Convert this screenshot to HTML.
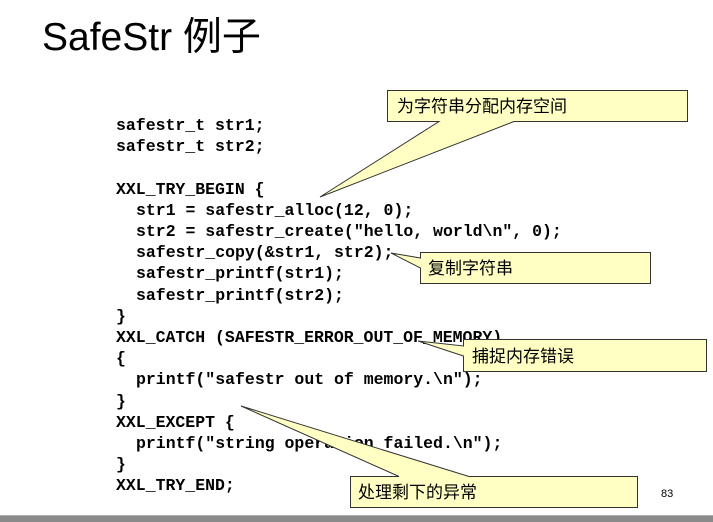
<!DOCTYPE html>
<html><head><meta charset="utf-8"><style>
html,body{margin:0;padding:0;background:#fff;}
body{width:713px;height:522px;overflow:hidden;position:relative;}
svg{position:absolute;left:0;top:0;}
.c{font-family:"Liberation Mono",monospace;font-weight:bold;font-size:16.5px;fill:#000;}
.z{font-family:"Liberation Sans","Noto Sans CJK SC",sans-serif;font-size:17px;fill:#000;}
</style></head><body>
<svg width="713" height="522" viewBox="0 0 713 522">
<text x="42" y="50" font-family="Liberation Sans, 'Noto Sans CJK SC', sans-serif" font-size="39" fill="#000">SafeStr 例子</text>
<g class="c">
<text x="116" y="130">safestr_t str1;</text>
<text x="116" y="151">safestr_t str2;</text>
<text x="116" y="194">XXL_TRY_BEGIN {</text>
<text x="136" y="215">str1 = safestr_alloc(12, 0);</text>
<text x="136" y="236">str2 = safestr_create("hello, world\n", 0);</text>
<text x="136" y="257">safestr_copy(&amp;str1, str2);</text>
<text x="136" y="278">safestr_printf(str1);</text>
<text x="136" y="300">safestr_printf(str2);</text>
<text x="116" y="321">}</text>
<text x="116" y="342">XXL_CATCH (SAFESTR_ERROR_OUT_OF_MEMORY)</text>
<text x="116" y="363">{</text>
<text x="136" y="384">printf("safestr out of memory.\n");</text>
<text x="116" y="406">}</text>
<text x="116" y="427">XXL_EXCEPT {</text>
<text x="136" y="448">printf("string operation failed.\n");</text>
<text x="116" y="469">}</text>
<text x="116" y="490">XXL_TRY_END;</text>
</g>
<g fill="#ffffc4" stroke="#333" stroke-width="1">
<path d="M387.5,90.5 H687.5 V121.5 H514 L320,197 L439,121.5 H387.5 Z"/>
<path d="M420.5,252.5 H650.5 V283.5 H420.5 V268 L391,253 L420.5,258 Z"/>
<path d="M463.5,339.5 H706.5 V371.5 H463.5 V356 L418,341 L463.5,346 Z"/>
<path d="M350.5,476.5 H399 L241,406 L469,476.5 H637.5 V507.5 H350.5 Z"/>
</g>
<text class="z" x="397" y="112">为字符串分配内存空间</text>
<text class="z" x="428" y="274">复制字符串</text>
<text class="z" x="472" y="362">捕捉内存错误</text>
<text class="z" x="358" y="498">处理剩下的异常</text>
<text x="661" y="497" font-family="Liberation Sans, sans-serif" font-size="11" fill="#000">83</text>
<rect x="0" y="515" width="713" height="7" fill="#8a8a8a"/>
<rect x="0" y="515" width="713" height="1" fill="#b0b0b0"/>
</svg>
</body></html>
